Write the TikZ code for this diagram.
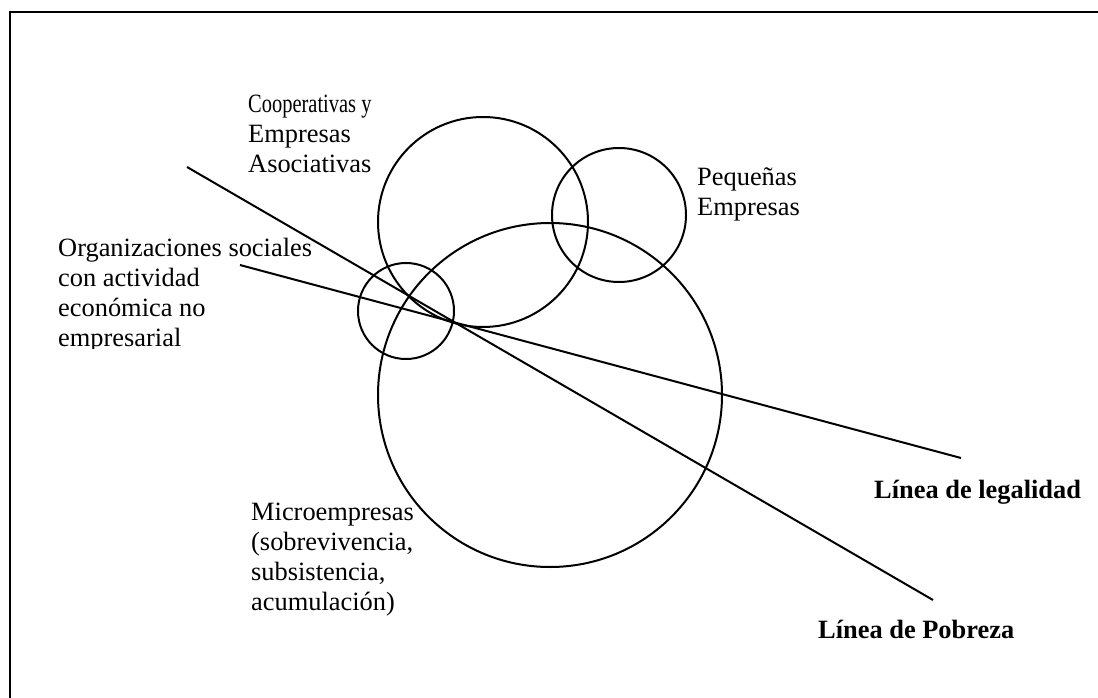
\documentclass[tikz,border=0pt]{standalone}
\usepackage{graphicx}
\usepackage{fontspec}
\setmainfont{Liberation Serif}
\begin{document}
\begin{tikzpicture}[x=1pt,y=-1pt,
  ring/.style={draw,circle,line width=2pt,inner sep=0pt},
  lbl/.style={align=left,inner sep=0pt,anchor=base west,font=\fontsize{26.4}{30}\selectfont},
  blbl/.style={lbl,font=\fontsize{26.4}{30}\selectfont\bfseries},
  ln/.style={line width=2pt}]
\useasboundingbox (0,0) rectangle (1098,698);
\draw[line width=2.2pt] (1110,12) -- (10,12) -- (10,710);
% circles
\node[ring,minimum size=210pt] (coop) at (483,222) {};
\node[ring,minimum size=134pt] (peq) at (619,215) {};
\node[ring,minimum size=344pt] (micro) at (550,395) {};
\node[ring,minimum size=96pt] (org) at (406,311) {};
% lines
\coordinate (pobA) at (187,167);
\coordinate (pobB) at (933,600);
\coordinate (legA) at (240,265);
\coordinate (legB) at (961,458);
\draw[ln] (pobA) -- (pobB);
\draw[ln] (legA) -- (legB);
% labels (base = baseline of last line)
\node[lbl] (tcoop) at (248,173) {\scalebox{0.775}[1]{Cooperativas y}\\Empresas\\Asociativas};
\node[lbl] (tpeq) at (697,215) {Pequeñas\\Empresas};
\begin{scope}
\clip (0,0) rectangle (400,348);
\node[lbl] (torg) at (58,346) {Organizaciones sociales\\con actividad\\económica no\\empresarial};
\end{scope}
\node[lbl] (tmicro) at (251,610) {Microempresas\\(sobrevivencia,\\subsistencia,\\acumulación)};
\node[blbl] (tleg) at (874,498) {Línea de legalidad};
\node[blbl] (tpob) at (818,638) {Línea de Pobreza};
\end{tikzpicture}
\end{document}
